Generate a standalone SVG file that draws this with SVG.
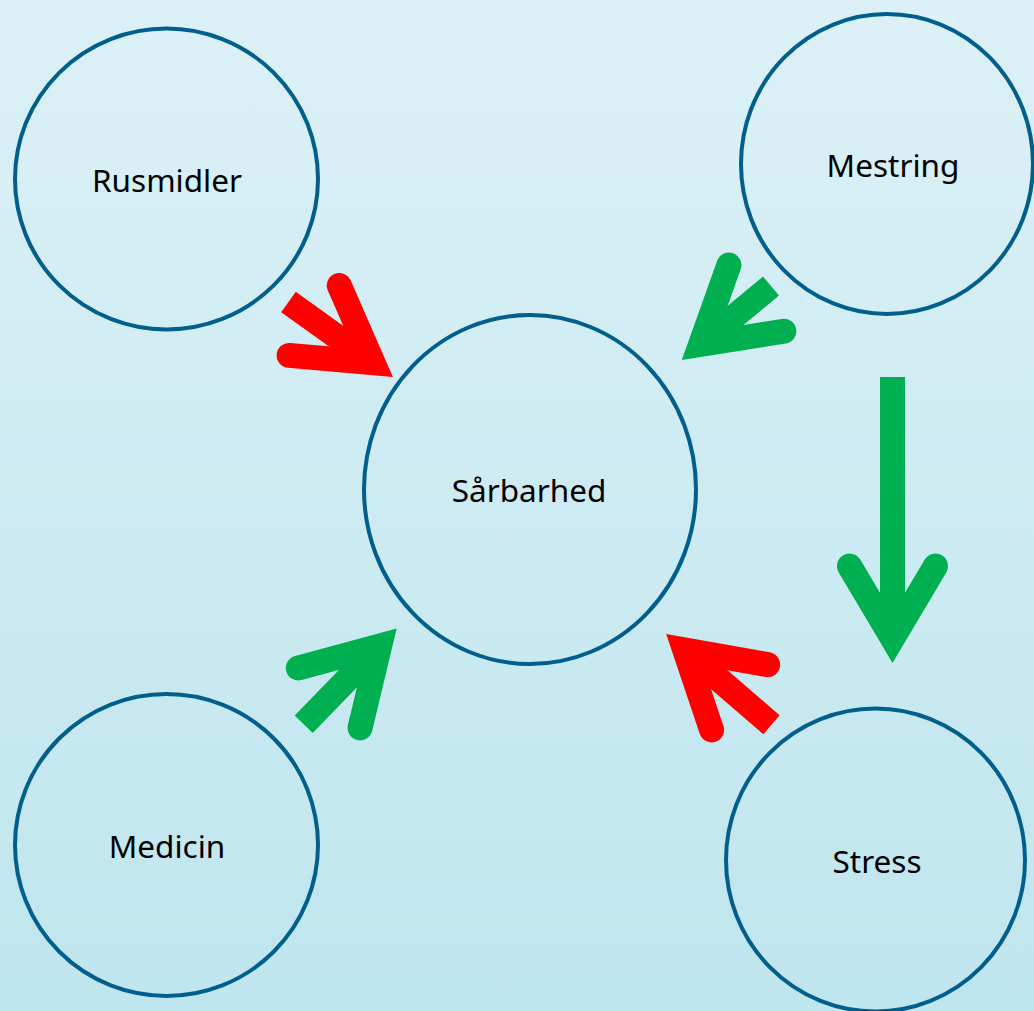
<svg xmlns="http://www.w3.org/2000/svg" width="1034" height="1011" viewBox="0 0 1034 1011">
  <defs>
    <linearGradient id="bg" x1="0" y1="0" x2="0" y2="1">
      <stop offset="0" stop-color="#dcf1f7"/>
      <stop offset="1" stop-color="#bfe5ee"/>
    </linearGradient>
    <marker id="headRed" viewBox="-115 -60 120 120" markerWidth="120" markerHeight="120" refX="-40" refY="0" orient="auto" markerUnits="userSpaceOnUse" overflow="visible">
      <polyline points="-97,-43 -24.6,0 -97,43" fill="none" stroke="#ff0000" stroke-width="25" stroke-linecap="round" stroke-linejoin="miter" stroke-miterlimit="6"/>
    </marker>
    <marker id="headGreen" viewBox="-115 -60 120 120" markerWidth="120" markerHeight="120" refX="-40" refY="0" orient="auto" markerUnits="userSpaceOnUse" overflow="visible">
      <polyline points="-97,-43 -24.6,0 -97,43" fill="none" stroke="#00b050" stroke-width="25" stroke-linecap="round" stroke-linejoin="miter" stroke-miterlimit="6"/>
    </marker>
  </defs>
  <style>
    .node { fill: none; stroke: #005f8c; stroke-width: 4; }
    .label { font-family: "Noto Sans", "Open Sans", sans-serif; font-size: 31.5px; fill: #000000; text-anchor: middle; }
    .red { stroke: #ff0000; stroke-width: 25; stroke-linecap: butt; fill: none; marker-end: url(#headRed); }
    .green { stroke: #00b050; stroke-width: 25; stroke-linecap: butt; fill: none; marker-end: url(#headGreen); }
  </style>
  <rect x="0" y="0" width="1034" height="1011" fill="url(#bg)"/>

  <g id="connectors">
    <line class="red" x1="288.5" y1="302" x2="360.5" y2="353.7"/>
    <line class="green" x1="771" y1="286" x2="712.5" y2="334.5"/>
    <line class="green" x1="303.7" y1="724.2" x2="368.9" y2="657"/>
    <line class="red" x1="771.5" y1="724.7" x2="696.4" y2="660.1"/>
    <line class="green" x1="892.5" y1="377" x2="892.5" y2="623"/>
  </g>

  <g id="node-rusmidler">
    <ellipse class="node" cx="166.5" cy="179" rx="151.5" ry="150.5"/>
    <text class="label" x="167" y="192">Rusmidler</text>
  </g>
  <g id="node-mestring">
    <ellipse class="node" cx="887" cy="164" rx="146" ry="150"/>
    <text class="label" x="893" y="177">Mestring</text>
  </g>
  <g id="node-saarbarhed">
    <ellipse class="node" cx="530" cy="489.5" rx="166" ry="174.5"/>
    <text class="label" x="529" y="502">Sårbarhed</text>
  </g>
  <g id="node-medicin">
    <ellipse class="node" cx="166.5" cy="845" rx="151.5" ry="151"/>
    <text class="label" x="167" y="858">Medicin</text>
  </g>
  <g id="node-stress">
    <ellipse class="node" cx="875.5" cy="860" rx="149.5" ry="151.5"/>
    <text class="label" x="877" y="873">Stress</text>
  </g>
</svg>
